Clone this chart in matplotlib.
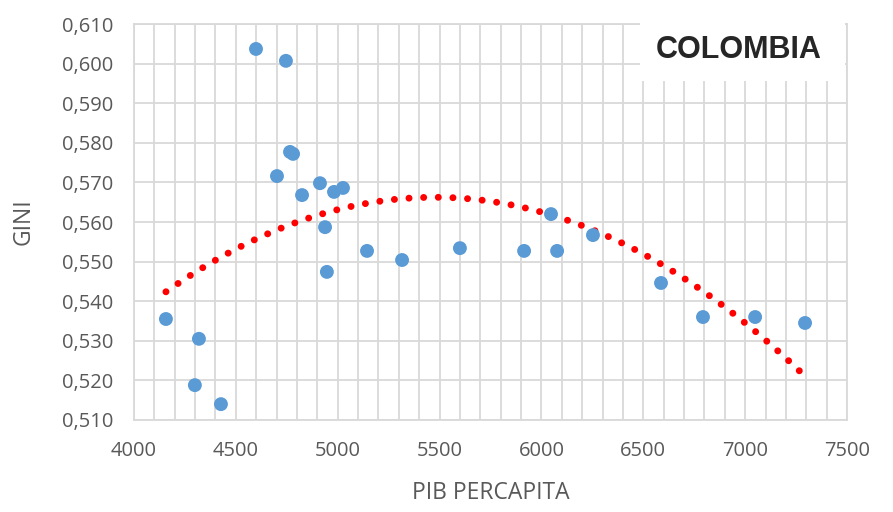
import numpy as np
import matplotlib.pyplot as plt
from matplotlib.ticker import MultipleLocator, FuncFormatter

# datos
pib = [4157, 4319, 4299, 4427, 4599, 4746, 4766, 4781, 4702, 4825, 4913,
       4982, 5026, 4938, 4947, 5144, 5316, 5600, 5915, 6047, 6077, 6253,
       6587, 6793, 7049, 7294]
gini = [0.5355, 0.5305, 0.5188, 0.5140, 0.6037, 0.6007, 0.5777, 0.5772,
        0.5716, 0.5668, 0.5698, 0.5676, 0.5686, 0.5587, 0.5474, 0.5527,
        0.5504, 0.5534, 0.5527, 0.5620, 0.5527, 0.5567, 0.5446, 0.5360,
        0.5360, 0.5345]

x_ticks = [4000, 4500, 5000, 5500, 6000, 6500, 7000, 7500]
y_ticks = [0.510, 0.520, 0.530, 0.540, 0.550, 0.560, 0.570, 0.580, 0.590, 0.600, 0.610]

# linea de tendencia polinomica (orden 2), como en excel
coef = np.polyfit(pib, gini, 2)
xt = np.linspace(min(pib), max(pib), 200)
yt = np.polyval(coef, xt)

font = "Open Sans"
gray = "#595959"

fig = plt.figure(figsize=(8.93, 5.12), dpi=100)
ax = fig.add_axes([0.150, 0.1797, 0.7985, 0.7734])

ax.plot(xt, yt, color="#ff0000", lw=5, linestyle=(0, (0.01, 2.1)),
        dash_capstyle="round", zorder=3)
ax.scatter(pib, gini, s=100, color="#5b9bd5", edgecolors="none", zorder=4)

ax.set_xlim(4000, 7500)
ax.set_ylim(0.510, 0.610)
ax.set_xticks(x_ticks)
ax.set_yticks(y_ticks)
ax.xaxis.set_minor_locator(MultipleLocator(100))
ax.yaxis.set_major_formatter(FuncFormatter(lambda v, p: f"{v:.3f}".replace(".", ",")))
ax.grid(True, which="both", axis="x", color="#d9d9d9", lw=1.3)
ax.grid(True, which="major", axis="y", color="#d9d9d9", lw=1.3)
ax.tick_params(which="both", length=0, labelsize=14.5, labelcolor=gray)
ax.tick_params(axis="x", pad=15)
ax.tick_params(axis="y", pad=15)
for lab in ax.get_xticklabels() + ax.get_yticklabels():
    lab.set_family(font)
for s in ax.spines.values():
    s.set_color("#d9d9d9")
    s.set_linewidth(1.3)

ax.set_xlabel("PIB PERCAPITA", fontsize=16.5, color=gray, family=font)
ax.set_ylabel("GINI", fontsize=16.5, color=gray, family=font)
ax.xaxis.set_label_coords(0.5, -0.184)
ax.xaxis.label.set_va("center")
ax.yaxis.set_label_coords(-0.155, 0.5)
ax.yaxis.label.set_va("center")

# caja del titulo
fig.patches.append(plt.Rectangle((640 / 893, 1 - 81 / 512), 205 / 893, 81 / 512,
                                 transform=fig.transFigure, facecolor="white",
                                 edgecolor="none", zorder=5))
fig.text(739 / 893, 1 - 50 / 512, "COLOMBIA", fontsize=22, fontweight="bold",
         color="#262626", ha="center", va="center", family="Liberation Sans", zorder=6)

fig.savefig("out.png", dpi=100)
